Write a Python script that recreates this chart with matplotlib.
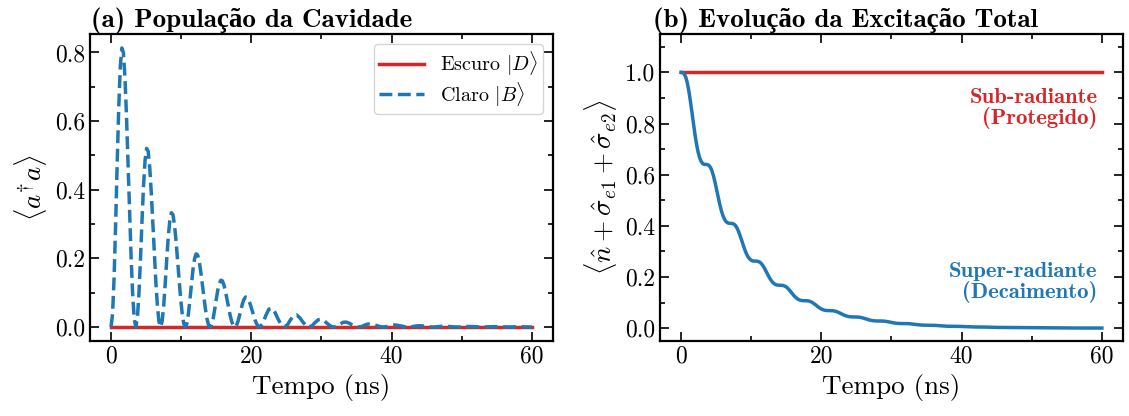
import matplotlib

matplotlib.use("Agg")
import matplotlib.pyplot as plt
import numpy as np
from matplotlib.ticker import MultipleLocator

# sample times (ns): 16 points per Rabi period up to 21.18 ns, 8 per period after
t_fine = np.linspace(0.0, 21.18, 97)[:-1]
t_coarse = np.linspace(21.18, 60.0, 89)

# <a^dagger a> for the bright state |B>, one row per oscillation period
claro_fine = [
    0.0, 0.0380, 0.1456, 0.3031, 0.4801, 0.6421, 0.7592, 0.8132,
    0.8000, 0.7284, 0.6142, 0.4764, 0.3333, 0.2012, 0.0943, 0.0244,
    0.0, 0.0243, 0.0932, 0.1940, 0.3073, 0.4110, 0.4860, 0.5205,
    0.5121, 0.4662, 0.3931, 0.3049, 0.2133, 0.1288, 0.0603, 0.0156,
    0.0, 0.0156, 0.0597, 0.1242, 0.1967, 0.2631, 0.3110, 0.3331,
    0.3278, 0.2984, 0.2516, 0.1952, 0.1365, 0.0824, 0.0386, 0.0100,
    0.0, 0.0100, 0.0382, 0.0795, 0.1259, 0.1684, 0.1991, 0.2132,
    0.2098, 0.1910, 0.1611, 0.1249, 0.0874, 0.0527, 0.0247, 0.0064,
    0.0, 0.0064, 0.0244, 0.0509, 0.0806, 0.1078, 0.1274, 0.1365,
    0.1343, 0.1223, 0.1031, 0.0800, 0.0559, 0.0338, 0.0158, 0.0041,
    0.0, 0.0041, 0.0156, 0.0326, 0.0516, 0.0690, 0.0816, 0.0874,
    0.0859, 0.0783, 0.0660, 0.0512, 0.0358, 0.0216, 0.0101, 0.0026,
]
claro_coarse = [
    0.0, 0.01001, 0.03301, 0.05220, 0.05501, 0.04223, 0.02292, 0.00648,
    0.0, 0.00641, 0.02113, 0.03341, 0.03521, 0.02703, 0.01467, 0.00415,
    0.0, 0.00410, 0.01353, 0.02139, 0.02254, 0.01730, 0.00939, 0.00266,
    0.0, 0.00263, 0.00866, 0.01369, 0.01442, 0.01107, 0.00601, 0.00170,
    0.0, 0.00168, 0.00554, 0.00876, 0.00923, 0.00709, 0.00385, 0.00109,
    0.0, 0.00108, 0.00355, 0.00561, 0.00591, 0.00454, 0.00246, 0.00070,
    0.0, 0.00069, 0.00227, 0.00359, 0.00378, 0.00291, 0.00158, 0.00045,
    0.0, 0.00044, 0.00145, 0.00230, 0.00242, 0.00186, 0.00101, 0.00029,
    0.0, 0.00028, 0.00093, 0.00147, 0.00155, 0.00119, 0.00065, 0.00018,
    0.0, 0.00018, 0.00060, 0.00094, 0.00099, 0.00076, 0.00041, 0.00012,
    0.0, 0.00012, 0.00038, 0.00060, 0.00063, 0.00049, 0.00026, 0.00007,
    0.0,
]

# total excitation <n + s_e1 + s_e2> for the super-radiant state
super_fine = [
    1.0, 0.9993, 0.9945, 0.9821, 0.9603, 0.9288, 0.8895, 0.8453,
    0.8000, 0.7572, 0.7196, 0.6891, 0.6665, 0.6517, 0.6436, 0.6405,
    0.6401, 0.6396, 0.6365, 0.6286, 0.6146, 0.5945, 0.5693, 0.5411,
    0.5121, 0.4847, 0.4606, 0.4411, 0.4266, 0.4172, 0.4120, 0.4100,
    0.4097, 0.4094, 0.4074, 0.4024, 0.3934, 0.3805, 0.3644, 0.3463,
    0.3278, 0.3102, 0.2948, 0.2823, 0.2731, 0.2670, 0.2637, 0.2624,
    0.2622, 0.2620, 0.2608, 0.2575, 0.2518, 0.2436, 0.2332, 0.2217,
    0.2098, 0.1986, 0.1887, 0.1807, 0.1748, 0.1709, 0.1688, 0.1680,
    0.1678, 0.1677, 0.1669, 0.1648, 0.1612, 0.1559, 0.1493, 0.1419,
    0.1343, 0.1271, 0.1208, 0.1157, 0.1119, 0.1094, 0.1080, 0.1075,
    0.1074, 0.1074, 0.1068, 0.1055, 0.1032, 0.0998, 0.0956, 0.0908,
    0.0860, 0.0814, 0.0773, 0.0740, 0.0716, 0.0700, 0.0691, 0.0688,
]
super_coarse = [
    0.06876, 0.06838, 0.06603, 0.06116, 0.05501, 0.04948, 0.04583, 0.04426,
    0.04401, 0.04377, 0.04226, 0.03915, 0.03521, 0.03167, 0.02933, 0.02833,
    0.02817, 0.02801, 0.02705, 0.02506, 0.02254, 0.02027, 0.01878, 0.01813,
    0.01803, 0.01793, 0.01731, 0.01604, 0.01442, 0.01297, 0.01202, 0.01160,
    0.01154, 0.01148, 0.01108, 0.01026, 0.00923, 0.00830, 0.00769, 0.00743,
    0.00739, 0.00735, 0.00710, 0.00657, 0.00591, 0.00532, 0.00493, 0.00476,
    0.00473, 0.00470, 0.00454, 0.00421, 0.00378, 0.00340, 0.00315, 0.00304,
    0.00303, 0.00301, 0.00291, 0.00270, 0.00242, 0.00218, 0.00202, 0.00195,
    0.00194, 0.00193, 0.00186, 0.00173, 0.00155, 0.00140, 0.00129, 0.00125,
    0.00124, 0.00123, 0.00119, 0.00110, 0.00099, 0.00089, 0.00083, 0.00080,
    0.00079, 0.00079, 0.00076, 0.00070, 0.00063, 0.00057, 0.00053, 0.00051,
    0.00051,
]

# dark state: no cavity population, excitation fully protected
escuro_pop = 0.0
escuro_total = 1.0

t = np.concatenate([t_fine, t_coarse])
claro = np.array(claro_fine + claro_coarse)
super_rad = np.array(super_fine + super_coarse)

RED = "#d62728"
BLUE = "#1f77b4"
SERIF = ["cmr10", "Liberation Serif"]
SERIF_BOLD = ["cmb10", "Liberation Serif"]

plt.rcParams.update({
    "font.family": SERIF,
    "mathtext.fontset": "cm",
    "axes.formatter.use_mathtext": False,
    "axes.unicode_minus": False,
    "axes.linewidth": 1.6,
    "xtick.direction": "in",
    "ytick.direction": "in",
    "xtick.top": True,
    "ytick.right": True,
    "xtick.major.size": 6.5,
    "ytick.major.size": 6.5,
    "xtick.minor.size": 3.5,
    "ytick.minor.size": 3.5,
    "xtick.major.width": 1.2,
    "ytick.major.width": 1.2,
    "xtick.minor.width": 1.2,
    "ytick.minor.width": 1.2,
    "xtick.labelsize": 17,
    "ytick.labelsize": 17,
    "axes.labelsize": 19.5,
})

fig = plt.figure(figsize=(11.29, 4.16), dpi=100)
ax1 = fig.add_axes([0.0797, 0.1803, 0.410, 0.738])
ax2 = fig.add_axes([0.5846, 0.1803, 0.410, 0.738])

title_font = dict(family=SERIF_BOLD, fontsize=19.5, fontweight="bold")
note_font = dict(family=SERIF_BOLD, fontsize=16.4, ha="right", va="center", linespacing=1.0)

# (a) cavity population
ax1.plot(t, np.full_like(t, escuro_pop), color=RED, lw=2.5, label=r"Escuro $|D\rangle$")
ax1.plot(t, claro, color=BLUE, lw=2.5, ls="--", label=r"Claro $|B\rangle$")
ax1.set_xlabel("Tempo (ns)")
ax1.set_ylabel(r"$\langle a^{\dagger} a \rangle$")
ax1.set_title("(a) População da Cavidade", loc="left", x=0.003, pad=5, **title_font)
leg = ax1.legend(loc="upper right", fontsize=14.5, handlelength=2.2,
                 borderpad=0.25, labelspacing=0.1, handletextpad=0.8)
leg.get_frame().set_linewidth(1.0)

# (b) total excitation
ax2.plot(t, np.full_like(t, escuro_total), color=RED, lw=2.5)
ax2.plot(t, super_rad, color=BLUE, lw=2.5)
ax2.set_ylim(-0.05, 1.15)
ax2.set_xlabel("Tempo (ns)")
ax2.set_ylabel(r"$\langle \hat{n} + \hat{\sigma}_{e1} + \hat{\sigma}_{e2} \rangle$")
ax2.set_title("(b) Evolução da Excitação Total", loc="left", x=-0.016, pad=5, **title_font)
ax2.text(59.4, 0.86, "Sub-radiante\n(Protegido)", color=RED, **note_font)
ax2.text(59.4, 0.18, "Super-radiante\n(Decaimento)", color=BLUE, **note_font)

for ax in (ax1, ax2):
    ax.xaxis.set_major_locator(MultipleLocator(20))
    ax.xaxis.set_minor_locator(MultipleLocator(10))
    ax.yaxis.set_major_locator(MultipleLocator(0.2))
    ax.yaxis.set_minor_locator(MultipleLocator(0.1))
    ax.tick_params(which="both", top=True, right=True)

fig.savefig("out.png", dpi=100)
